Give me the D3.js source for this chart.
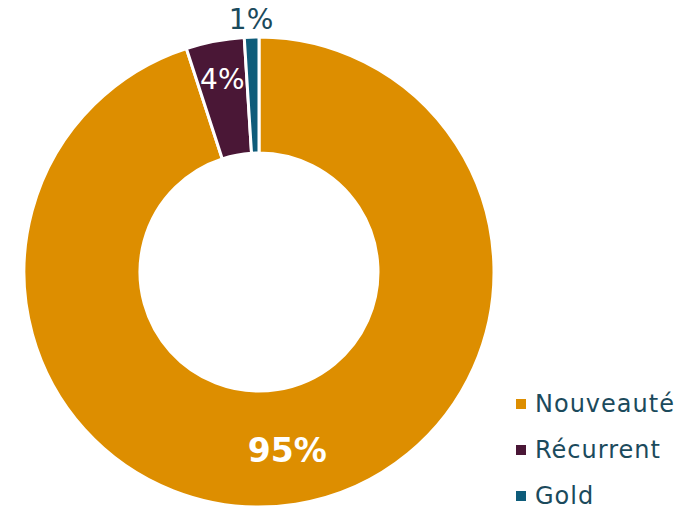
<!DOCTYPE html>
<html>
<head>
<meta charset="utf-8">
<script src="https://cdn.jsdelivr.net/npm/d3@7"></script>
<style>
  body { margin: 0; background: #fff; }
  text { font-family: "DejaVu Sans", sans-serif; }
</style>
</head>
<body>
<div id="container"></div>
<script>
/* DATA */
var categories = ["Nouveauté", "Récurrent", "Gold"],
    values = [95, 4, 1],
    labels = ["95%", "4%", "1%"],
    colors = ["#DD8E00", "#4A1736", "#0E5C7A"];

var width = 685, height = 510,
    cx = 259, cy = 272,
    outerR = 235, innerR = 119;

var data = categories.map((c, i) => ({name: c, value: values[i], label: labels[i], color: colors[i]}));

const svg = d3.select("#container")
  .append("svg")
   .attr("width", width)
   .attr("height", height)

const g = svg.append("g")
  .attr("transform", "translate(" + cx + "," + cy + ")")

const pie = d3.pie()
  .sort(null)
  .value(d => d.value)

const arc = d3.arc()
  .innerRadius(innerR)
  .outerRadius(outerR)

const arcs = pie(data)

// slices
g.selectAll("path.slice")
  .data(arcs)
  .join("path")
  .attr("class", "slice")
  .attr("d", arc)
  .attr("fill", d => d.data.color)
  .attr("stroke", "#fff")
  .attr("stroke-width", 3)

// labels: big slice near centroid, small ones pushed outward
const labelR = [181, 196, 253]
g.selectAll("text.lbl")
  .data(arcs)
  .join("text")
  .attr("class", "lbl")
  .attr("transform", (d, i) => {
    const a = (d.startAngle + d.endAngle) / 2
    return "translate(" + (labelR[i] * Math.sin(a)) + "," + (-labelR[i] * Math.cos(a)) + ")"
  })
  .attr("text-anchor", "middle")
  .attr("dominant-baseline", "central")
  .attr("fill", (d, i) => i == 2 ? "#1B4A5C" : "#fff")
  .attr("font-weight", (d, i) => i == 0 ? "bold" : "normal")
  .attr("font-size", (d, i) => i == 0 ? 33 : 28)
  .text(d => d.data.label)

// legend
const legend = svg.append("g")
  .attr("transform", "translate(516,404)")

const items = legend.selectAll("g.item")
  .data(data)
  .join("g")
  .attr("class", "item")
  .attr("transform", (d, i) => "translate(0," + (i * 46) + ")")

items.append("rect")
  .attr("x", 0)
  .attr("y", -5)
  .attr("width", 10)
  .attr("height", 10)
  .attr("fill", d => d.color)

items.append("text")
  .attr("x", 19)
  .attr("y", 0)
  .attr("dominant-baseline", "central")
  .attr("font-size", 24)
  .attr("letter-spacing", 1)
  .attr("fill", "#1B4A5C")
  .text(d => d.name)
</script>
</body>
</html>
